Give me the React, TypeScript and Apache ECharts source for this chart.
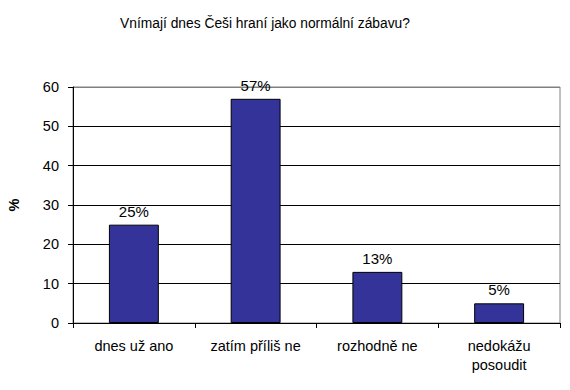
import React, { useEffect, useRef } from "react";
import * as echarts from "echarts";

const categories = ["dnes už ano", "zatím příliš ne", "rozhodně ne", "nedokážu\nposoudit"];
const values = [25, 57, 13, 5];
const yTicks = { min: 0, max: 60, interval: 10 };
const titleText = "Vnímají dnes Češi hraní jako normální zábavu?";

export default function App() {
  const ref = useRef<HTMLDivElement>(null);
  useEffect(() => {
    const chart = echarts.init(ref.current!, null, { renderer: "svg" });
    const font = "Liberation Sans, Arial, sans-serif";
    chart.setOption({
      animation: false,
      backgroundColor: "#fff",
      textStyle: { fontFamily: font },
      title: {
        text: titleText,
        left: 260,
        textAlign: "center",
        top: 11,
        textStyle: { fontFamily: font, fontSize: 13.8, fontWeight: "normal", color: "#000" },
      },
      grid: {
        left: 73,
        right: 10,
        top: 87,
        bottom: 67,
        containLabel: false,
        outerBoundsMode: "none",
        show: true,
        borderColor: "#808080",
        borderWidth: 1,
        backgroundColor: "#fff",
      },
      xAxis: {
        type: "category",
        data: categories,
        axisLine: { lineStyle: { color: "#000", width: 1 } },
        axisTick: { show: true, length: 5, interval: 0, lineStyle: { color: "#000" } },
        axisLabel: {
          interval: 0,
          margin: 13,
          fontSize: 14.5,
          color: "#000",
          fontFamily: font,
          lineHeight: 19,
          verticalAlign: "top",
        },
      },
      yAxis: {
        type: "value",
        min: yTicks.min,
        max: yTicks.max,
        interval: yTicks.interval,
        name: "%",
        nameLocation: "middle",
        nameGap: 52,
        nameTextStyle: { fontFamily: font, fontSize: 14.5, fontWeight: "bold", color: "#000" },
        axisLine: { show: true, lineStyle: { color: "#000", width: 1 } },
        axisTick: { show: true, length: 5, lineStyle: { color: "#000" } },
        axisLabel: { margin: 14, fontSize: 14.5, color: "#000", fontFamily: font },
        splitLine: {
          show: true,
          lineStyle: {
            color: ["#000", "#000", "#000", "#000", "#000", "#000", "#808080"],
            width: 1,
          },
        },
      },
      series: [
        {
          type: "bar",
          data: values,
          barWidth: "41%",
          itemStyle: { color: "#333399", borderColor: "#000", borderWidth: 1 },
          label: {
            show: true,
            position: "top",
            distance: 6,
            formatter: "{c}%",
            fontSize: 15,
            color: "#000",
            fontFamily: font,
          },
        },
      ],
    });
    return () => chart.dispose();
  }, []);
  return <div ref={ref} style={{ width: 570, height: 390, position: "absolute", left: 0, top: 0 }} />;
}
